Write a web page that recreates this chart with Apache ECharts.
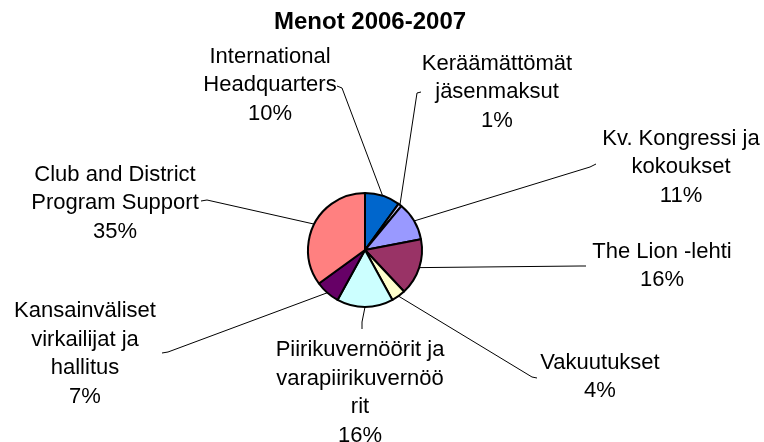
<!DOCTYPE html>
<html>
<head>
<meta charset="utf-8">
<script src="https://cdn.jsdelivr.net/npm/echarts@6/dist/echarts.min.js"></script>
<style>
	html, body { margin: 0; padding: 0; background: #fff; }
	#box { width: 764px; height: 442px; }
</style>
</head>
<body>
<div id="box"></div>
<script>
	// data
	var categories = [
		'International\nHeadquarters',
		'Keräämättömät\njäsenmaksut',
		'Kv. Kongressi ja\nkokoukset',
		'The Lion -lehti',
		'Vakuutukset',
		'Piirikuvernöörit ja\nvarapiirikuvernöö\nrit',
		'Kansainväliset\nvirkailijat ja\nhallitus',
		'Club and District\nProgram Support'
	];
	var values = [10, 1, 11, 16, 4, 16, 7, 35];
	var colors = ['#0066CC', '#CCCCFF', '#9999FF', '#993366', '#FFFFCC', '#CCFFFF', '#660066', '#FF8080'];

	// label layout: centre of text block, bend and end of guide line
	var labelCenter = [[270, 85], [497, 92], [681, 167], [662, 266], [600, 377], [360, 393], [85, 354], [115, 203]];
	var lineBend = [[342, 88], [417, 93], [590, 167], [580, 266], [532, 377], [362, 322], [168, 352], [207, 200]];
	var lineEnd = [[337, 86], [421, 92], [596, 164], [586, 266], [537, 378], [362, 329], [162, 353], [201, 201]];

	var myChart = echarts.init(document.getElementById('box'));

	var pieData = categories.map(function (name, i) {
		return { name: name, value: values[i], itemStyle: { color: colors[i] } };
	});

	var option = {
		animation: false,
		title: {
			text: 'Menot 2006-2007',
			left: 269,
			top: 5,
			textStyle: {
				fontFamily: 'Liberation Sans, Arial',
				fontSize: 24,
				fontWeight: 'bold',
				color: '#000'
			}
		},
		series: [{
			type: 'pie',
			center: [365, 250],
			radius: 57,
			startAngle: 90,
			clockwise: true,
			percentPrecision: 0,
			data: pieData,
			itemStyle: {
				borderColor: '#000',
				borderWidth: 2
			},
			label: {
				show: true,
				position: 'outside',
				formatter: '{b}\n{d}%',
				fontFamily: 'Liberation Sans, Arial',
				fontSize: 22,
				lineHeight: 28.5,
				color: '#000',
				align: 'center'
			},
			labelLine: {
				show: true,
				lineStyle: { color: '#000', width: 1 }
			},
			labelLayout: function (params) {
				var i = params.dataIndex;
				var start = params.labelLinePoints ? params.labelLinePoints[0] : lineBend[i];
				return {
					x: labelCenter[i][0],
					y: labelCenter[i][1],
					align: 'center',
					verticalAlign: 'middle',
					labelLinePoints: [start, lineBend[i], lineEnd[i]]
				};
			}
		}]
	};

	myChart.setOption(option);
</script>
</body>
</html>
